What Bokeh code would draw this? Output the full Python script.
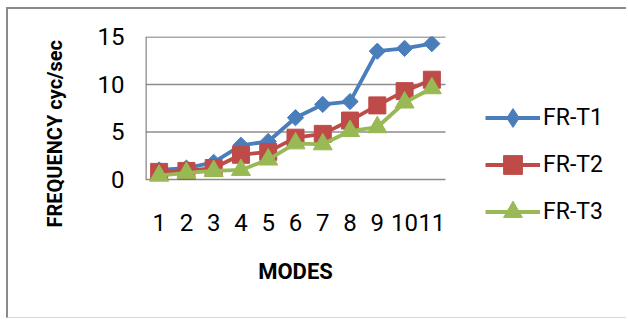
import numpy as np
from bokeh.plotting import figure
from bokeh.models import Range1d, FixedTicker, Legend, LegendItem, Title
from bokeh.embed import file_html
from bokeh.resources import INLINE

# Natural frequencies per mode for three cases
modes = list(range(1, 12))
mode_labels = [str(m) for m in modes]
fr_t1 = [1.0, 1.2, 1.8, 3.6, 4.0, 6.5, 7.9, 8.2, 13.5, 13.8, 14.3]
fr_t2 = [0.8, 0.9, 1.2, 2.6, 2.9, 4.4, 4.8, 6.2, 7.8, 9.3, 10.5]
fr_t3 = [0.4, 0.7, 0.9, 1.0, 2.1, 3.8, 3.7, 5.1, 5.5, 8.1, 9.6]
series_names = ["FR-T1", "FR-T2", "FR-T3"]
y_ticks = [0, 5, 10, 15]

FONT = "Roboto"
GRID = "#8c8c8c"
PX_PER_MODE = 300 / 11
PX_PER_UNIT = 9.5
FRAME_W, FRAME_H = 483, 284

p = figure(
    width=620, height=311,
    x_range=Range1d(0.5, 0.5 + FRAME_W / PX_PER_MODE),
    y_range=Range1d(15.05 - FRAME_H / PX_PER_UNIT, 15.05),
    output_backend="svg", toolbar_location=None,
    min_border_left=137, min_border_right=0,
    min_border_top=27, min_border_bottom=0,
)
p.styles = {
    "margin-left": "6px",
    "margin-top": "7px",
    "border-left": "2px solid #8a8a8a",
    "border-top": "2px solid #8a8a8a",
    "border-bottom": "1px solid #d9d9d9",
}
p.outline_line_color = None
p.background_fill_color = "white"
p.border_fill_color = "white"
p.xgrid.visible = False
p.ygrid.visible = False
p.xaxis.visible = False

# y axis: tick labels only
p.yaxis.ticker = FixedTicker(ticks=y_ticks)
p.yaxis.axis_line_color = None
p.yaxis.major_tick_line_color = None
p.yaxis.minor_tick_line_color = None
p.yaxis.major_tick_out = 0
p.yaxis.major_label_standoff = 21
p.yaxis.major_label_text_font = FONT
p.yaxis.major_label_text_font_size = "24px"
p.yaxis.major_label_text_color = "black"

# plot-area rules: horizontal gridlines and the left edge
n = len(y_ticks)
p.segment(x0=[0.5] * n, y0=y_ticks, x1=[11.5] * n, y1=y_ticks,
          line_color=GRID, line_width=1.3)
p.segment(x0=[0.5], y0=[0], x1=[0.5], y1=[15], line_color=GRID, line_width=2.6)

# category labels and axis title under the plot area
p.text(x=modes, y=[-4.49] * len(modes), text=mode_labels,
       text_align="center", text_baseline="middle",
       text_font={"value": FONT}, text_font_size={"value": "24px"},
       text_color="black")
p.text(x=[6], y=[-9.65], text=["MODES"],
       text_align="center", text_baseline="middle",
       text_font={"value": FONT}, text_font_size={"value": "22px"},
       text_font_style="bold", text_color="black")

colors = ["#4a7ebb", "#be4b48", "#98b954"]
plot_markers = [
    dict(marker="square", angle=np.pi / 4, size=11.5),  # diamond
    dict(marker="square", size=17),
    dict(marker="triangle", size=19),
]
key_markers = ["diamond", "square", "triangle"]

items = []
for name, vals, color, mk, key in zip(series_names, [fr_t1, fr_t2, fr_t3],
                                      colors, plot_markers, key_markers):
    ln = p.line(modes, vals, line_color=color, line_width=3.8)
    p.scatter(modes, vals, fill_color=color, line_color=color, **mk)
    # key symbol for the legend (a single NaN point, nothing drawn in the plot)
    key_r = p.scatter(x=[np.nan], y=[np.nan], marker=key,
                      fill_color=color, line_color=color)
    items.append(LegendItem(label=name, renderers=[ln, key_r]))

legend = Legend(
    items=items, location=(340, 85),
    glyph_width=55, glyph_height=47, label_height=47, spacing=0,
    padding=0, margin=0, label_standoff=3,
    border_line_color=None, background_fill_alpha=0,
    label_text_font=FONT, label_text_font_size="23px", label_text_color="black",
)
p.add_layout(legend)

# y-axis title, starting 93 px above the bottom of the plot area
p.add_layout(Title(
    text="FREQUENCY cyc/sec", align="left", offset=93, standoff=56,
    text_font=FONT, text_font_size="20px", text_font_style="bold",
    text_color="black",
), "left")

open("out.html", "w").write(file_html(p, INLINE))
